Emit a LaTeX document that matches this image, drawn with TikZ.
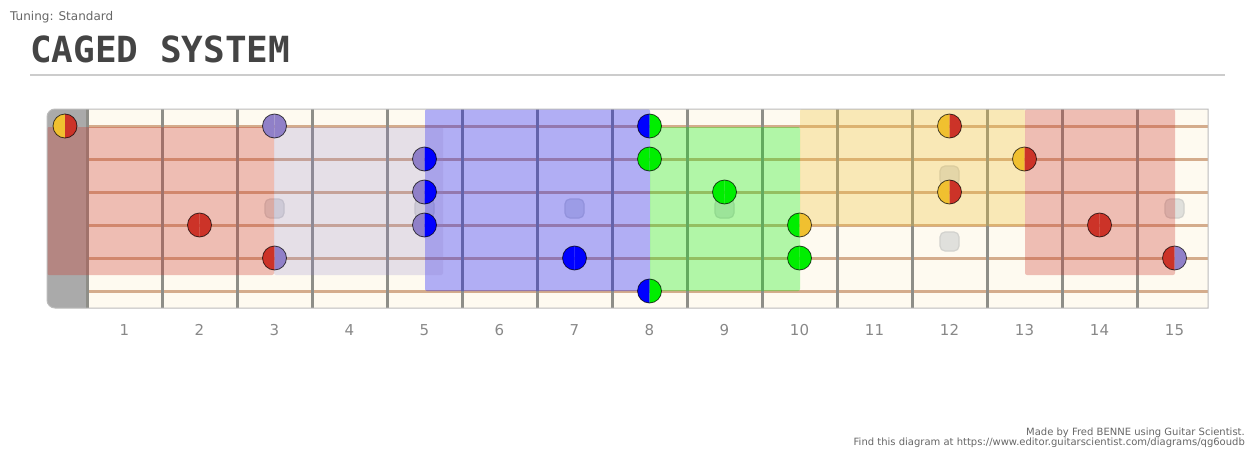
\documentclass[tikz,border=0pt]{standalone}
\usepackage{fontspec}
\setmainfont{DejaVu Sans}
\newfontfamily\titlefont{DejaVu Sans Mono}
\definecolor{cRed}{HTML}{CC3328}
\definecolor{cYel}{HTML}{F0C030}
\definecolor{cPur}{HTML}{9080C8}
\definecolor{cBlu}{HTML}{0000FF}
\definecolor{cGrn}{HTML}{00EE00}
\definecolor{boardc}{HTML}{FEFAF0}
\definecolor{nutc}{HTML}{AAAAAA}
\definecolor{strc}{HTML}{D4AC8C}
\definecolor{fretc}{HTML}{8E8E88}
\definecolor{bordc}{HTML}{BBBBBB}
\definecolor{markf}{HTML}{E0E0DC}
\definecolor{markd}{HTML}{D2D2CE}
\definecolor{titc}{HTML}{444444}
\definecolor{numc}{HTML}{888888}
\definecolor{smallc}{HTML}{666666}
\tikzset{
  fretline/.style={draw=fretc, line width=3},
  stringline/.style={draw=strc, line width=3},
  region/.style={fill opacity=0.3, rounded corners=2},
  marker/.style={fill=markf, draw=markd, line width=1.2, rounded corners=5},
  noteout/.style={draw=black, draw opacity=0.7, line width=0.8},
  fretnum/.style={text=numc, font=\fontsize{15}{18}\selectfont, inner sep=0},
  credit/.style={text=smallc, font=\fontsize{10}{12}\selectfont, inner sep=0, anchor=base east},
}
\newcommand{\hnote}[4]{%
  \fill[#3] (#1,#2-12) arc[start angle=-90, end angle=-270, radius=12] -- cycle;
  \fill[#4] (#1,#2-12) arc[start angle=-90, end angle=90, radius=12] -- cycle;
  \draw[noteout] (#1,#2) circle[radius=12];}
\newcommand{\fmark}[2]{\path[marker] (#1-9.5,#2-9.5) rectangle (#1+9.5,#2+9.5);}
\begin{document}
\begin{tikzpicture}[x=1pt,y=-1pt]
\useasboundingbox (0,0) rectangle (1255,455);
% header
\node[anchor=base west, inner sep=0, text=smallc, font=\fontsize{12}{14}\selectfont] (tuning) at (10,20) {Tuning: Standard};
\node[anchor=base west, inner sep=0, text=titc, font=\titlefont\bfseries\fontsize{36}{40}\selectfont] (title) at (30,62) {CAGED SYSTEM};
\draw[draw=black!20, line width=2] (30,75) -- (1225,75);
% board
\fill[boardc] (1208,109) -- (55,109) arc[start angle=-90, end angle=-180, radius=8] -- (47,300) arc[start angle=180, end angle=90, radius=8] -- (1208,308) -- cycle;
\fill[nutc] (87,109) -- (55,109) arc[start angle=-90, end angle=-180, radius=8] -- (47,300) arc[start angle=180, end angle=90, radius=8] -- (87,308) -- cycle;
% fret markers
\foreach \f in {3,5,7,9,15} {\fmark{49.5+75*\f}{208.5}}
\fmark{949.5}{175.5}
\fmark{949.5}{241.5}
% strings
\foreach \s in {0,...,5} {\draw[stringline] (87,126+33*\s) -- (1208,126+33*\s);}
% frets
\foreach \k in {0,...,14} {\draw[fretline] (87+75*\k,109) -- (87+75*\k,308);}
% regions
\fill[region, fill=cRed] (47,127) rectangle (274,275);
\fill[region, fill=cBlu] (425,109) rectangle (650,291);
\fill[region, fill=cPur, fill opacity=0.22] (274,127) rectangle (443,275);
\fill[region, fill=cGrn] (650,127) rectangle (800,291);
\fill[region, fill=cYel] (800,109) rectangle (1025,226);
\fill[region, fill=cRed] (1025,109) rectangle (1175,275);
% outline
\draw[bordc, line width=1] (1208,109) -- (55,109) arc[start angle=-90, end angle=-180, radius=8] -- (47,300) arc[start angle=180, end angle=90, radius=8] -- (1208,308) -- cycle;
% notes
\hnote{65}{126}{cYel}{cRed}
\hnote{274.5}{126}{cPur}{cPur}
\hnote{199.5}{225}{cRed}{cRed}
\hnote{274.5}{258}{cRed}{cPur}
\hnote{424.5}{159}{cPur}{cBlu}
\hnote{424.5}{192}{cPur}{cBlu}
\hnote{424.5}{225}{cPur}{cBlu}
\hnote{574.5}{258}{cBlu}{cBlu}
\hnote{649.5}{126}{cBlu}{cGrn}
\hnote{649.5}{159}{cGrn}{cGrn}
\hnote{649.5}{291}{cBlu}{cGrn}
\hnote{724.5}{192}{cGrn}{cGrn}
\hnote{799.5}{225}{cGrn}{cYel}
\hnote{799.5}{258}{cGrn}{cGrn}
\hnote{949.5}{126}{cYel}{cRed}
\hnote{949.5}{192}{cYel}{cRed}
\hnote{1024.5}{159}{cYel}{cRed}
\hnote{1099.5}{225}{cRed}{cRed}
\hnote{1174.5}{258}{cRed}{cPur}
% fret numbers
\foreach \f in {1,...,15} {\node[fretnum] (n\f) at (49.5+75*\f,330) {\f};}
% credits
\node[credit] (made) at (1245,435) {Made by Fred BENNE using Guitar Scientist.};
\node[credit] (find) at (1245,445) {Find this diagram at https://www.editor.guitarscientist.com/diagrams/qg6oudb};
\end{tikzpicture}
\end{document}
